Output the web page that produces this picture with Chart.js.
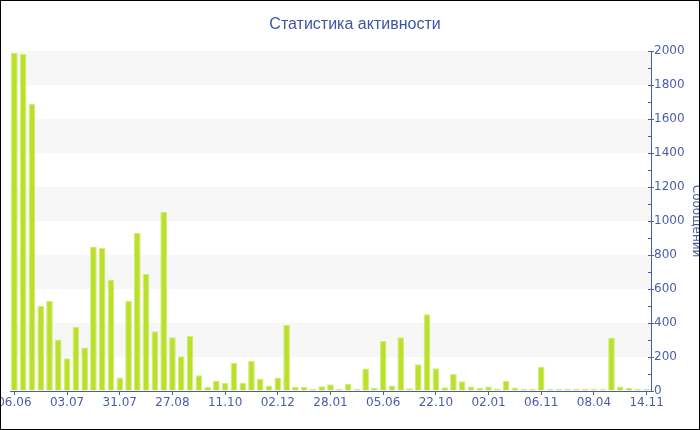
<!DOCTYPE html>
<html>
<head>
<meta charset="utf-8">
<script src="https://cdn.jsdelivr.net/npm/chart.js@4"></script>
<style>
  html, body { margin: 0; padding: 0; background: #fff; }
  #wrap { width: 700px; height: 430px; }
</style>
</head>
<body>
<div id="wrap"><canvas id="activityChart" width="700" height="430"></canvas></div>
<script>
// подписи оси X (каждый 6-й столбец)
const tickLabels = ["06.06", "03.07", "31.07", "27.08", "11.10", "02.12", "28.01",
  "05.06", "22.10", "02.01", "06.11", "08.04", "14.11"];
const labelStep = 6;

// сообщений за период
const messages = [
  1990, 1985, 1690, 500, 530, 303, 193, 378, 256, 850, 842, 657, 79, 531, 932, 688,
  352, 1054, 317, 205, 324, 92, 24, 59, 49, 165, 47, 177, 73, 33, 79, 389,
  24, 24, 12, 28, 39, 12, 43, 10, 132, 18, 295, 33, 317, 16, 157, 452,
  134, 22, 102, 57, 26, 18, 26, 14, 61, 20, 10, 6, 142, 4, 4, 10,
  6, 12, 6, 4, 315, 26, 18, 12, 12
];

const yTicks = [0, 200, 400, 600, 800, 1000, 1200, 1400, 1600, 1800, 2000];

const categories = messages.map((_, i) => i % labelStep === 0 ? tickLabels[i / labelStep] : "");

const BLUE = "#4a5ea8";

// полосы фона, мелкие засечки оси Y и рамка
const decor = {
  id: "decor",
  beforeDatasetsDraw(chart) {
    const { ctx, chartArea: a, scales: { y } } = chart;
    ctx.save();
    ctx.fillStyle = "#f7f7f7";
    for (let i = 1; i < yTicks.length; i += 2) {
      const top = y.getPixelForValue(yTicks[i + 1] ?? yTicks[i]);
      const bot = y.getPixelForValue(yTicks[i]);
      ctx.fillRect(a.left, top, a.right - a.left, bot - top);
    }
    ctx.restore();
  },
  afterDraw(chart) {
    const { ctx, chartArea: a, scales: { y } } = chart;
    ctx.save();
    ctx.strokeStyle = BLUE;
    ctx.lineWidth = 1;
    ctx.beginPath();
    for (let v = 0; v <= 2000; v += 100) {
      const py = Math.round(y.getPixelForValue(v)) + 0.5;
      const major = v % 200 === 0;
      ctx.moveTo(a.right - 3, py);
      ctx.lineTo(a.right + (major ? 3 : 0), py);
    }
    ctx.stroke();
    ctx.strokeStyle = "#000";
    ctx.strokeRect(0.5, 0.5, 699, 429);
    ctx.restore();
  }
};

new Chart(document.getElementById("activityChart"), {
  type: "bar",
  data: {
    labels: categories,
    datasets: [{
      data: messages,
      backgroundColor: "#bbe02c",
      borderColor: "#d2ec78",
      borderWidth: 1,
      minBarLength: 2,
      barPercentage: 0.76,
      categoryPercentage: 1
    }]
  },
  options: {
    responsive: false,
    animation: false,
    layout: { padding: { left: 10, right: 0, top: 0, bottom: 9 } },
    plugins: {
      legend: { display: false },
      tooltip: { enabled: false },
      title: {
        display: true,
        text: "Статистика активности",
        color: "#3e56a6",
        font: { family: "'Liberation Sans', sans-serif", size: 16, weight: "normal" },
        padding: { top: 15, bottom: 17 }
      }
    },
    scales: {
      x: {
        offset: true,
        grid: {
          offset: false,
          drawOnChartArea: false,
          tickLength: 4,
          color: (c) => c.index % labelStep === 0 ? BLUE : "transparent"
        },
        border: { color: BLUE },
        ticks: {
          autoSkip: false,
          maxRotation: 0,
          padding: 1,
          color: BLUE,
          font: { family: "'DejaVu Sans'", size: 12 },
          callback: (v, i) => categories[i]
        },
        afterFit(scale) {
          scale.paddingLeft = 0;
          scale.paddingRight = 0;
          scale.height = 30;
        }
      },
      y: {
        position: "right",
        min: 0,
        max: 2000,
        afterBuildTicks(scale) {
          scale.ticks = yTicks.map(v => ({ value: v }));
        },
        grid: { drawOnChartArea: false, drawTicks: false },
        border: { color: BLUE },
        ticks: {
          padding: 3,
          color: BLUE,
          font: { family: "'DejaVu Sans'", size: 12 },
          callback: (v) => String(v)
        },
        title: {
          display: true,
          text: "Сообщений",
          color: BLUE,
          font: { family: "'DejaVu Sans'", size: 12 },
          padding: { top: -3, bottom: 0 }
        },
        afterFit(scale) {
          scale.width = 49;
        }
      }
    }
  },
  plugins: [decor]
});
</script>
</body>
</html>
